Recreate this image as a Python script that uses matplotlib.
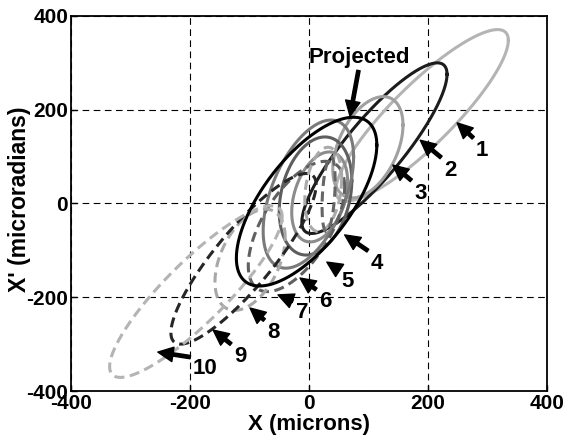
import numpy as np
import matplotlib
matplotlib.use("Agg")
import matplotlib.pyplot as plt

plt.rcParams['font.family'] = ['Liberation Sans', 'DejaVu Sans']
plt.rcParams['font.weight'] = 'bold'

# ---- data: phase-space ellipses (centre, half-extents, phase) ----
ellipse_names = ['1', '2', '3', '4', '5', '6', '7', '8', '9', '10', 'Projected',
                 'inner a', 'inner b']
center_x = [190, 110, 99, 18, 11, -1, -21, -99, -110, -190, -4, 24, 33]     # microns
center_y = [188, 118, 120, 14, 16, 20, -49, -120, -118, -188, 4, 30, 20]    # microradians
half_x = [145, 122, 59, 47, 61, 76, 81, 59, 122, 145, 118, 31, 11]
half_y = [183, 182, 108, 96, 126, 158, 139, 108, 182, 183, 180, 90, 80]
phase_deg = [29, 30, 64, 70, 75, 60, 53, 64, 30, 29, 48, 75, 70]

line_colors = ['#b4b4b4', '#1c1c1c', '#a0a0a0', '#8c8c8c', '#5e5e5e', '#7a7a7a',
               '#606060', '#a8a8a8', '#262626', '#b4b4b4', '#000000', '#aaaaaa', '#666666']
line_dashed = [False, False, False, False, False, False, True, True, True, True,
               False, True, True]

# annotation arrows: tip and label positions (data coords)
arrow_labels = ['1', '2', '3', '4', '5', '6', '7', '8', '9', '10', 'Projected']
arrow_tip_x = [249, 187, 141, 60, 30, -15, -52, -99, -161, -254, 69]
arrow_tip_y = [172, 135, 82, -67, -125, -159, -195, -223, -270, -317, 186]
label_x = [291, 237, 187, 114, 64, 27, -12, -60, -116, -174, 84]
label_y = [112, 71, 22, -127, -167, -210, -233, -276, -327, -351, 312]

xticks = [-400, -200, 0, 200, 400]
yticks = [-400, -200, 0, 200, 400]

fig = plt.figure(figsize=(5.63, 4.38), dpi=100)
ax = fig.add_axes([0.126, 0.1073, 0.8456, 0.8562])

t = np.linspace(0, 2 * np.pi, 500)
for i in range(len(ellipse_names)):
    ph = np.deg2rad(phase_deg[i])
    xs = center_x[i] + half_x[i] * np.cos(t)
    ys = center_y[i] + half_y[i] * np.cos(t - ph)
    ls = (0, (3.3, 1.8)) if line_dashed[i] else '-'
    ax.plot(xs, ys, color=line_colors[i], lw=2.2, linestyle=ls, zorder=3)

for i, lab in enumerate(arrow_labels):
    ax.annotate(lab, xy=(arrow_tip_x[i], arrow_tip_y[i]),
                xytext=(label_x[i], label_y[i]),
                ha='center', va='center', fontsize=16, fontweight='bold',
                arrowprops=dict(facecolor='black', edgecolor='black', width=2.4,
                                headwidth=10.5, headlength=11, shrink=0.0,
                                shrinkA=4, shrinkB=0),
                zorder=5)

ax.set_xlim(-400, 400)
ax.set_ylim(-400, 400)
ax.set_xticks(xticks)
ax.set_yticks(yticks)
ax.set_xticklabels([str(v) for v in xticks], fontsize=15, fontweight='bold')
ax.set_yticklabels([str(v) for v in yticks], fontsize=15, fontweight='bold')
ax.tick_params(direction='in', length=4, width=1, pad=2)
ax.set_axisbelow(True)
ax.grid(True, color='black', lw=0.8, linestyle=(0, (6, 4)))
for s in ax.spines.values():
    s.set_linewidth(1.3)
ax.set_xlabel('X (microns)', fontsize=16, fontweight='bold')
ax.set_ylabel("X' (microradians)", fontsize=16.5, fontweight='bold')
ax.xaxis.set_label_coords(0.5, -0.062)
ax.yaxis.set_label_coords(-0.084, 0.51)

fig.savefig('out.png', dpi=100)
